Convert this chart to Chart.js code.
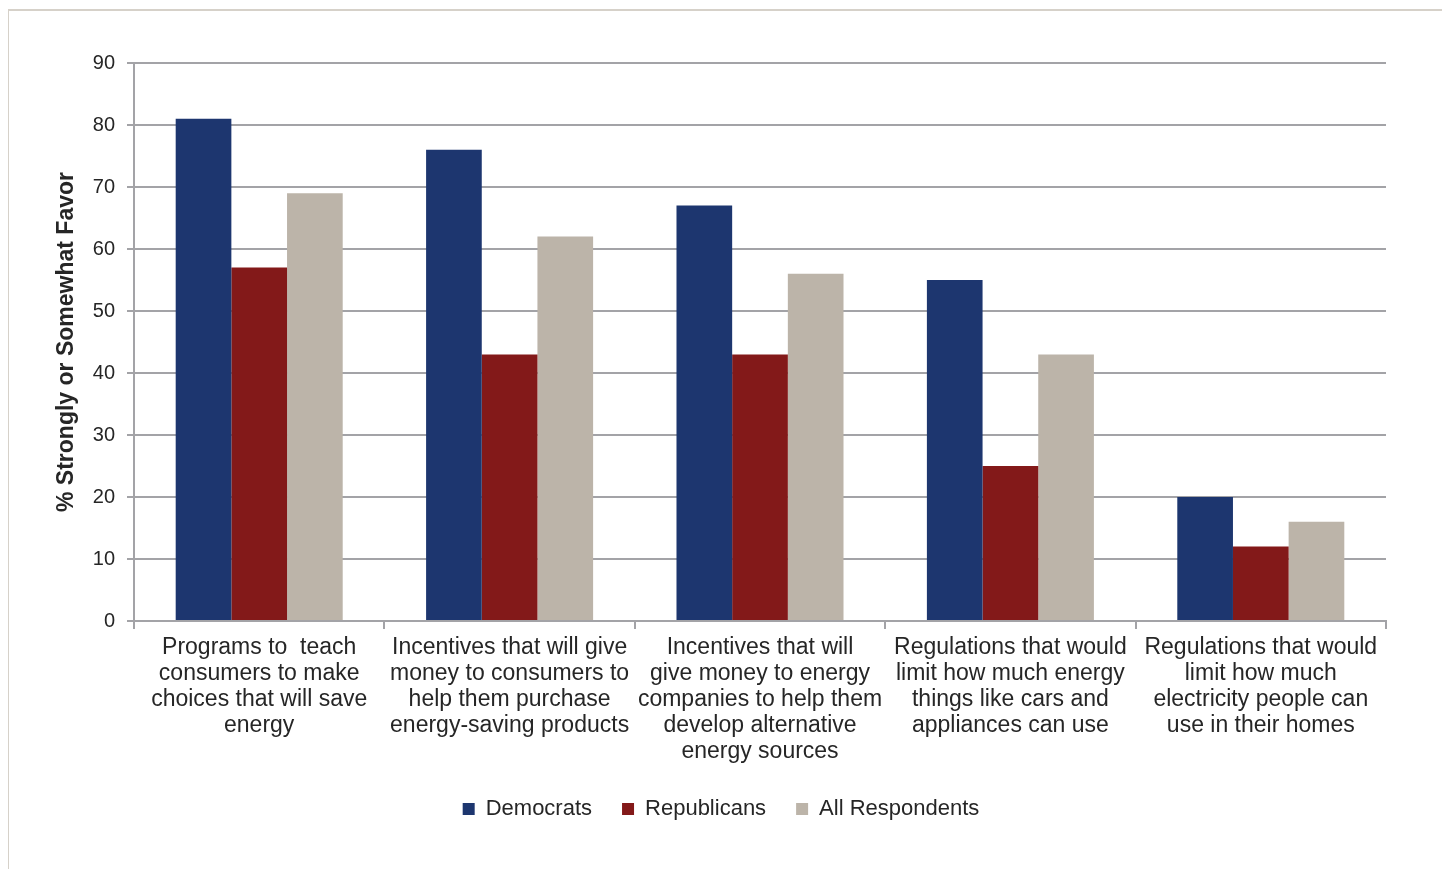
<!DOCTYPE html>
<html>
<head>
<meta charset="utf-8">
<script src="https://cdn.jsdelivr.net/npm/chart.js@4/dist/chart.umd.min.js"></script>
<style>
  html, body { margin: 0; padding: 0; background: #fff; }
  body { width: 1442px; height: 869px; position: relative; overflow: hidden; }
  #frame { position: absolute; left: 8px; top: 9px; width: 1440px; height: 870px;
           border-left: 1.5px solid #d6d1c9; border-top: 2px solid #d6d1c9; }
  #wrap { position: absolute; left: 0; top: 0; width: 1442px; height: 869px; }
</style>
</head>
<body>
<div id="frame"></div>
<div id="wrap"><canvas id="chart"></canvas></div>
<script>
// Support for energy policies, by party

const CATEGORIES = [
  ["Programs to  teach", "consumers to make", "choices that will save", "energy"],
  ["Incentives that will give", "money to consumers to", "help them purchase", "energy-saving products"],
  ["Incentives that will", "give money to energy", "companies to help them", "develop alternative", "energy sources"],
  ["Regulations that would", "limit how much energy", "things like cars and", "appliances can use"],
  ["Regulations that would", "limit how much", "electricity people can", "use in their homes"],
];

const DEMOCRATS = [81, 76, 67, 55, 20];
const REPUBLICANS = [57, 43, 43, 25, 12];
const ALL_RESPONDENTS = [69, 62, 56, 43, 16];

const Y_TICKS = [0, 10, 20, 30, 40, 50, 60, 70, 80, 90];

const TEXT = "#262626";
const GRID = "#a3a3a7";
const FONT = "'Liberation Sans', Arial, sans-serif";

const bar = (label, data, color) => ({
  label,
  data,
  backgroundColor: color,
  borderWidth: 0,
  categoryPercentage: 0.667,
  barPercentage: 1.0,
});

new Chart(document.getElementById("chart"), {
  type: "bar",
  data: {
    labels: CATEGORIES,
    datasets: [
      bar("Democrats", DEMOCRATS, "#1d366f"),
      bar("Republicans", REPUBLICANS, "#831919"),
      bar("All Respondents", ALL_RESPONDENTS, "#bcb4a9"),
    ],
  },
  options: {
    responsive: true,
    maintainAspectRatio: false,
    animation: false,
    // equal side padding keeps the legend centred under the plot
    layout: { padding: { top: 63, right: 56, left: 56, bottom: 39 } },
    scales: {
      x: {
        grid: { display: true, drawOnChartArea: false, offset: true, color: GRID, lineWidth: 2, tickLength: 8 },
        border: { color: GRID, width: 2 },
        ticks: { color: TEXT, font: { family: FONT, size: 23, lineHeight: 1.13 }, maxRotation: 0, autoSkip: false, padding: 6 },
        afterFit: (s) => { s.height = 147; },
      },
      y: {
        min: 0,
        max: 90,
        afterBuildTicks: (s) => { s.ticks = Y_TICKS.map((v) => ({ value: v })); },
        grid: { color: GRID, lineWidth: 2, tickLength: 7 },
        border: { color: GRID, width: 2 },
        ticks: { color: TEXT, font: { family: FONT, size: 20 }, padding: 12 },
        title: {
          display: true,
          text: "% Strongly or Somewhat Favor",
          color: TEXT,
          font: { family: FONT, size: 23, weight: "bold" },
          padding: { top: -3, bottom: 0 },
        },
        afterFit: (s) => { s.width = 78; },
      },
    },
    plugins: {
      legend: {
        position: "bottom",
        labels: { color: TEXT, font: { family: FONT, size: 22 }, boxWidth: 12, boxHeight: 12, padding: 30, useBorderRadius: false },
      },
      tooltip: { enabled: false },
    },
  },
});
</script>
</body>
</html>
